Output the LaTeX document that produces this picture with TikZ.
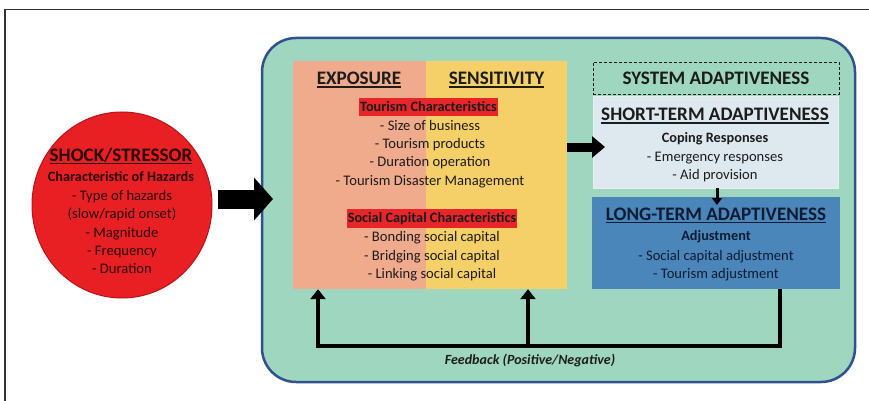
\documentclass[tikz,border=0pt]{standalone}
\usepackage{fontspec}
\setmainfont{Carlito}
\usetikzlibrary{arrows.meta,shapes.geometric}
\definecolor{gfill}{HTML}{9ED6BF}
\definecolor{gline}{HTML}{2F5190}
\definecolor{expo}{HTML}{F0AB8D}
\definecolor{sens}{HTML}{F5D068}
\definecolor{hil}{HTML}{E8262A}
\definecolor{redc}{HTML}{E82024}
\definecolor{redl}{HTML}{B81418}
\definecolor{stfill}{HTML}{DDE8EF}
\definecolor{stline}{HTML}{E6F1EA}
\definecolor{ltfill}{HTML}{4A86B9}
\definecolor{txt}{HTML}{1C1C1C}
\definecolor{ltxt}{HTML}{0E1C33}
\definecolor{ctxt}{HTML}{2A0505}
\definecolor{frame}{HTML}{333333}
\newcommand\ulhead[1]{\setbox0=\hbox{#1}\leavevmode\rlap{\rule[-2.8pt]{\wd0}{1.3pt}}\box0}
\begin{document}
\begin{tikzpicture}[x=1pt,y=-1pt,
  body/.style={font=\fontsize{14.6}{17}\selectfont, anchor=base, inner sep=0pt, text=txt},
  bodyb/.style={body, font=\fontsize{14.3}{17}\selectfont\bfseries},
  head/.style={font=\fontsize{19.1}{22}\selectfont\bfseries, anchor=base, inner sep=0pt, text=txt},
  box/.style={rectangle, inner sep=0pt, anchor=center},
  hilite/.style={box, fill=hil, font=\fontsize{14.3}{17}\selectfont\bfseries, text=txt},
  bigarrow/.style={line width=19pt, -{Triangle[length=19pt,width=42pt]}},
  midarrow/.style={line width=9pt, -{Triangle[length=13pt,width=21pt]}},
  smallarrow/.style={line width=3pt, -{Triangle[length=7pt,width=10pt]}},
  fbline/.style={line width=4pt, line join=miter, -{Triangle[length=10pt,width=15pt]}}
]
\useasboundingbox (0,0) rectangle (869,401);
% outer partial frame
\draw[frame, line width=1.5pt] (869,9.5) -- (5,9.5) -- (5,401);

% main green container
\node[box, minimum width=593pt, minimum height=344pt, rounded corners=34pt,
      fill=gfill, draw=gline, line width=2.5pt] (green) at (558.5,210) {};

% exposure / sensitivity
\node[box, fill=expo, minimum width=133pt, minimum height=228pt] (expo) at (359.5,175) {};
\node[box, fill=sens, minimum width=141pt, minimum height=228pt] (sens) at (496.5,175) {};
\node[head] (hexpo) at (359,85) {\ulhead{EXPOSURE}};
\node[head] (hsens) at (496.5,85) {\ulhead{SENSITIVITY}};
\node[hilite, minimum width=139pt, minimum height=18pt] (tchar) at (428.5,107) {Tourism Characteristics};
\foreach \t [count=\i] in {- Size of business, - Tourism products, - Duration operation, - Tourism Disaster Management}
  \node[body] (tc\i) at (430,{130.5+18.2*(\i-1)}) {\t};
\node[hilite, minimum width=170pt, minimum height=19pt] (schar) at (432,218.5) {Social Capital Characteristics};
\foreach \t [count=\i] in {- Bonding social capital, - Bridging social capital, - Linking social capital}
  \node[body] (sc\i) at (432,{241.5+18.5*(\i-1)}) {\t};

% shock circle
\node[ellipse, inner sep=0pt, minimum width=180pt, minimum height=186pt,
      fill=redc, draw=redl, line width=1pt] (shock) at (122,205) {};
\node[head, text=ctxt] (hshock) at (121,161) {\ulhead{SHOCK/STRESSOR}};
\node[bodyb, text=ctxt] (chaz) at (121,181.5) {Characteristic of Hazards};
\foreach \t [count=\i] in {- Type of hazards, (slow/rapid onset), - Magnitude, - Frequency, - Duration}
  \node[body, text=ctxt] (hz\i) at (122,{200.5+18.25*(\i-1)}) {\t};

% system adaptiveness
\node[box, minimum width=246pt, minimum height=32pt, draw=txt, line width=0.8pt,
      dash pattern=on 3pt off 2pt] (sys) at (716,78) {};
\node[head] (hsys) at (716,85) {SYSTEM ADAPTIVENESS};

% short-term
\node[box, minimum width=245pt, minimum height=91pt, fill=stfill, draw=stline, line width=1pt] (short) at (715.5,142.5) {};
\node[head] (hshort) at (715,121) {\ulhead{SHORT-TERM ADAPTIVENESS}};
\node[bodyb] (coping) at (715,142.5) {Coping Responses};
\node[body] (st1) at (715,161.5) {- Emergency responses};
\node[body] (st2) at (715,179.5) {- Aid provision};

% long-term
\node[box, minimum width=248pt, minimum height=92pt, fill=ltfill] (long) at (716,243) {};
\node[head, text=ltxt] (hlong) at (716,220) {\ulhead{LONG-TERM ADAPTIVENESS}};
\node[bodyb, text=ltxt] (adj) at (716,240.5) {Adjustment};
\node[body, text=ltxt] (lt1) at (716,260.5) {- Social capital adjustment};
\node[body, text=ltxt] (lt2) at (716,278) {- Tourism adjustment};

% arrows
\coordinate (a1) at (218,199);
\coordinate (a2) at (273,199);
\draw[bigarrow] (a1) -- (a2);
\coordinate (m1) at (567,147);
\coordinate (m2) at (605,147);
\draw[midarrow] (m1) -- (m2);
\coordinate (s1) at (717,188);
\coordinate (s2) at (717,205);
\draw[smallarrow] (s1) -- (s2);

% feedback
\coordinate (fr) at (780,289);
\coordinate (fl) at (318,345.5);
\coordinate (fm) at (528,345.5);
\draw[fbline] (fr) |- (fl) -- (fl |- expo.south);
\draw[fbline] (fm) -- (fm |- sens.south);
\node[body, font=\fontsize{14}{17}\selectfont\bfseries\itshape] (fbtxt) at (530,364.5) {Feedback (Positive/Negative)};
\end{tikzpicture}
\end{document}
